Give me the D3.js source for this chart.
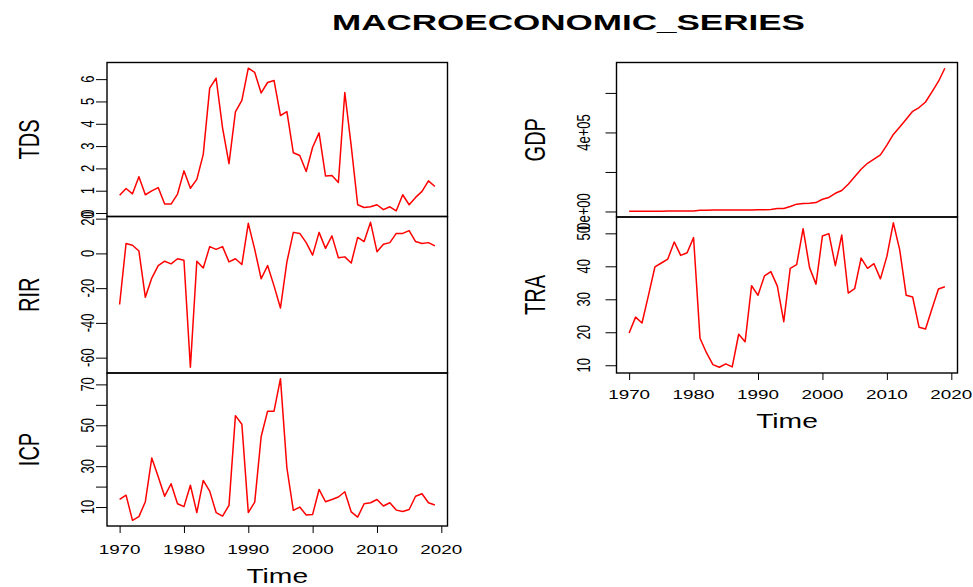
<!DOCTYPE html>
<html><head><meta charset="utf-8">
<script src="https://cdn.jsdelivr.net/npm/d3@7"></script>
<style>
body{margin:0;background:#fff}
svg{display:block}
text{font-family:"Liberation Sans",Arial,Helvetica,sans-serif;fill:#000}
</style>
</head><body>
<svg id="c" width="973" height="587"></svg>
<script>
// ---- data ----
const title = "MACROECONOMIC_SERIES";
const startYear = 1970;
const xTicks = [1970, 1980, 1990, 2000, 2010, 2020];

const TDS = [0.80,1.10,0.86,1.63,0.82,0.99,1.14,0.40,0.40,0.85,
             1.89,1.11,1.51,2.63,5.60,6.04,3.82,2.21,4.53,5.05,
             6.49,6.30,5.38,5.85,5.94,4.37,4.54,2.70,2.58,1.86,
             2.95,3.59,1.66,1.68,1.37,5.40,3.00,0.37,0.25,0.28,
             0.37,0.15,0.28,0.10,0.82,0.37,0.70,0.97,1.44,1.19];
const RIR = [-29.4,5.7,4.7,1.4,-25.3,-14.2,-7.0,-4.5,-6.0,-3.1,
             -3.9,-65.5,-4.5,-8.4,3.9,2.3,3.9,-4.9,-3.1,-6.4,
             17.3,2.3,-14.6,-7.0,-18.7,-31.4,-4.9,12.1,11.5,6.2,
             -1.0,12.1,2.9,10.1,-2.5,-2.0,-5.5,9.2,6.8,17.9,
             1.0,5.3,6.2,11.5,11.5,13.1,6.8,5.7,6.2,4.3];
const ICP = [13.7,15.8,3.5,5.3,12.6,34.0,24.8,15.3,21.4,11.6,
             10.2,20.7,7.3,23.0,17.8,7.3,5.6,10.8,54.7,50.5,
             7.3,12.4,44.5,56.9,56.9,72.8,29.1,8.4,10.0,6.1,
             6.4,18.6,12.6,13.7,14.9,17.5,7.6,5.1,11.6,12.1,
             13.7,10.5,12.1,8.5,7.8,8.8,15.3,16.5,12.1,11.0];
const GDP = [1000,1100,1200,1300,1500,1700,1900,2100,2300,2600,2900,
             6500,6700,6900,7000,7200,7400,7600,7800,8000,8300,8600,
             10500,15000,15500,25000,37000,40000,42000,45000,
             62000,71000,92000,106000,138000,176000,214000,244000,265000,286000,
             336000,390000,428000,467000,507000,526000,554000,605000,658000,725000];
const TRA = [19.8,24.6,22.8,31.2,39.8,41.0,42.2,47.4,43.3,44.1,
             48.7,18.2,13.8,10.2,9.4,10.4,9.5,19.4,17.1,34.1,
             31.2,37.1,38.4,34.0,23.2,39.4,40.5,51.4,39.6,34.6,
             49.2,49.9,40.2,49.5,31.9,33.2,42.5,39.4,40.8,36.2,
             43.0,53.2,44.9,31.2,30.7,21.5,21.0,27.1,33.1,33.8];

const tdsTicks = [0,1,2,3,4,5,6];         const tdsLabels = ["0","1","2","3","4","5","6"];
const tdsLabelAt = [0,1,2,3,4,5,6];
const rirTicks = [-60,-40,-20,0,20];       const rirLabels = ["-60","-40","-20","0","20"];
const rirLabelAt = [-60,-40,-20,0,20];
const icpTicks = [10,20,30,40,50,60,70];   const icpLabels = ["10","30","50","70"];
const icpLabelAt = [10,30,50,70];
const gdpTicks = [0,200000,400000,600000]; const gdpLabels = ["0e+00","4e+05"];
const gdpLabelAt = [0,400000];
const traTicks = [10,20,30,40,50];         const traLabels = ["10","20","30","40","50"];
const traLabelAt = [10,20,30,40,50];

// ---- layout ----
const SX = 1.45;   // horizontal stretch of the original raster
const svg = d3.select("#c");
const cols = [
  {x0:107, x1:447.5, bottom:526, tickLabX:93.5, nameX:38.5, yLab:554, timeY:583},
  {x0:616.5, x1:957.5, bottom:373, tickLabX:589.5, nameX:544.5, yLab:399, timeY:428}
];
const panels = [
  {name:"TDS", data:TDS, col:0, top:62.5, bot:216.5, ticks:tdsTicks, labs:tdsLabels, at:tdsLabelAt},
  {name:"RIR", data:RIR, col:0, top:216.5, bot:373, ticks:rirTicks, labs:rirLabels, at:rirLabelAt},
  {name:"ICP", data:ICP, col:0, top:373, bot:526, ticks:icpTicks, labs:icpLabels, at:icpLabelAt},
  {name:"GDP", data:GDP, col:1, top:62.5, bot:217, ticks:gdpTicks, labs:gdpLabels, at:gdpLabelAt},
  {name:"TRA", data:TRA, col:1, top:217, bot:373, ticks:traTicks, labs:traLabels, at:traLabelAt}
];
function pad(e){const r=e[1]-e[0];return [e[0]-0.04*r, e[1]+0.04*r];}

function stext(g, x, y, str, size, rot, anchor, weight, sx){
  const t = g.append("g").attr("transform",`translate(${x},${y}) scale(${sx||SX},1)`)
    .append("text").attr("text-anchor",anchor||"middle").attr("font-size",size).text(str);
  if(rot) t.attr("transform",`rotate(${rot})`);
  if(weight) t.attr("font-weight",weight);
  return t;
}

cols.forEach(c=>{
  const n = TDS.length;
  c.x = d3.scaleLinear().domain(pad([startYear, startYear+n-1])).range([c.x0, c.x1]);
});

panels.forEach(p=>{
  const c = cols[p.col];
  const x = c.x;
  const y = d3.scaleLinear().domain(pad(d3.extent(p.data))).range([p.bot, p.top]);
  const ga = svg.append("g").attr("transform",`translate(${c.x0},0)`)
    .call(d3.axisLeft(y).tickValues(p.ticks).tickSize(11).tickSizeOuter(0).tickFormat(""));
  ga.select(".domain").remove();
  ga.selectAll("line").attr("stroke","#000").attr("stroke-width",1);
  p.at.forEach((v,i)=>stext(svg, c.tickLabX, y(v), p.labs[i], 13, -90));
  const line = d3.line().x((d,i)=>x(startYear+i)).y(d=>y(d));
  svg.append("path").datum(p.data).attr("d",line)
    .attr("fill","none").attr("stroke","#ff0000").attr("stroke-width",1.5)
    .attr("stroke-linejoin","round");
  svg.append("rect").attr("x",c.x0).attr("y",p.top)
    .attr("width",c.x1-c.x0).attr("height",p.bot-p.top)
    .attr("fill","none").attr("stroke","#000").attr("stroke-width",1.4);
  stext(svg, c.nameX, (p.top+p.bot)/2, p.name, 20, -90, "middle", null, 1.5);
});

cols.forEach(c=>{
  const gx = svg.append("g").attr("transform",`translate(0,${c.bottom})`)
    .call(d3.axisBottom(c.x).tickValues(xTicks).tickSize(7).tickSizeOuter(0).tickFormat(""));
  gx.select(".domain").remove();
  gx.selectAll("line").attr("stroke","#000").attr("stroke-width",1);
  xTicks.forEach(t=>stext(svg, c.x(t), c.yLab, String(t), 13, 0));
  stext(svg, (c.x0+c.x1)/2, c.timeY, "Time", 19.5, 0);
});

svg.append("text").attr("x",332).attr("y",30).attr("font-size",22).attr("font-weight","bold")
  .attr("textLength",473).attr("lengthAdjust","spacingAndGlyphs").text(title);
</script>
</body></html>
